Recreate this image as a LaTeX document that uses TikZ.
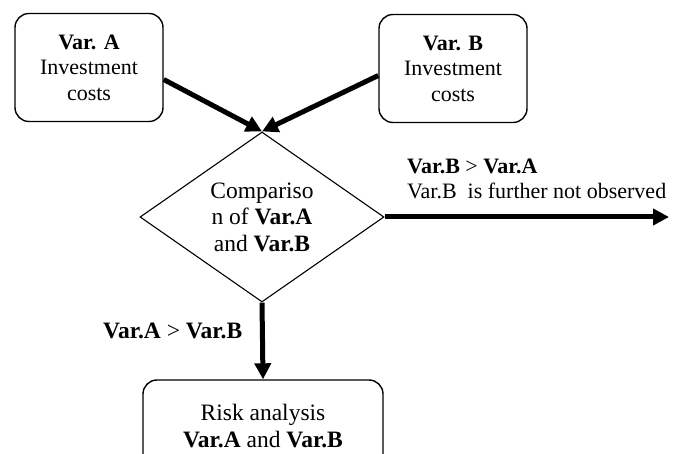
\documentclass[tikz,border=0pt]{standalone}
\usepackage{fontspec}
\setmainfont{Liberation Serif}
\usetikzlibrary{shapes.geometric,arrows.meta}
\begin{document}
\begin{tikzpicture}[x=1pt,y=-1pt,
  txt/.style={font=\fontsize{22}{25.5}\selectfont},
  bigtxt/.style={font=\fontsize{23.5}{26.5}\selectfont},
  costbox/.style={txt,draw,line width=1.4pt,rounded corners=14pt,align=center,
    minimum width=148pt,minimum height=108pt,inner sep=0pt},
  decision/.style={bigtxt,draw,line width=1.1pt,diamond,aspect=1.435,align=center,
    minimum width=244pt,minimum height=170pt,inner sep=0pt},
  flow/.style={line width=5pt,-{Triangle[length=16pt,width=16pt]}}]
\useasboundingbox (0,0) rectangle (677,454);
\clip (0,0) rectangle (677,454);

% input boxes
\node[costbox] (A) at (89,67.5) {\textbf{Var. A}\\Investment\\costs};
\node[costbox] (B) at (453,68.5) {\textbf{Var. B}\\Investment\\costs};

% decision
\node[decision] (D) at (262,217) {Compariso\\n of \textbf{Var.A}\\and \textbf{Var.B}};

% result box (runs past the lower edge)
\node[costbox,bigtxt,minimum width=240pt,minimum height=92pt] (R) at (263,426)
  {Risk analysis\\\textbf{Var.A} and \textbf{Var.B}};

\coordinate (out) at (669,217);

% connectors
\draw[flow] ([yshift=-12pt]A.east) -- (D.north);
\draw[flow] ([yshift=-7pt]B.west) -- (D.north);
\draw[flow] (D.east) -- (out);
\draw[flow] (D.south) -- (R.north);

% branch labels
\node[txt,anchor=west,align=left,inner sep=0pt] (lb) at (407,179)
  {\textbf{Var.B} > \textbf{Var.A}\\Var.B\ \ is further not observed};
\node[bigtxt,anchor=west,inner sep=0pt] (la) at (103,331) {\textbf{Var.A} > \textbf{Var.B}};
\end{tikzpicture}
\end{document}
